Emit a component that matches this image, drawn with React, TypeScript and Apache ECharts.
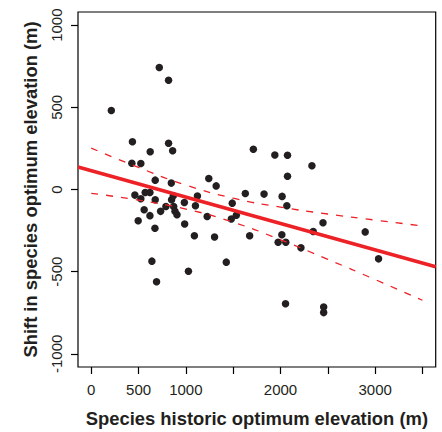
import React, { useEffect, useRef } from "react";
import * as echarts from "echarts";

// Species historic optimum elevation (m)
const historicElev = [
  212, 719, 817, 435, 817, 860, 623, 429, 524, 1713, 676, 846, 1242, 1320, 1122, 1628,
  461, 570, 620, 524, 676, 849, 867, 984, 1101, 1490, 1533, 1480, 1674, 559, 620, 496,
  733, 789, 871, 885, 906, 1225, 987, 673, 1090, 1303, 641, 1427, 1027, 690, 1940, 2074,
  2332, 2074, 1826, 2017, 2067, 2449, 2346, 2895, 2014, 1975, 2056, 2216, 3036, 2053, 2456, 2456,
];
// Shift in species optimum elevation (m)
const elevShift = [
  481, 742, 665, 291, 281, 236, 230, 160, 158, 245, 57, 39, 67, 22, -40, -24,
  -34, -18, -18, -56, -62, -62, -38, -79, -99, -83, -157, -180, -281, -123, -159, -190,
  -133, -103, -103, -133, -153, -164, -210, -236, -281, -289, -436, -442, -497, -561, 210, 208,
  144, 81, -28, -42, -99, -202, -256, -258, -275, -321, -321, -355, -422, -695, -715, -749,
];

// Fitted regression line (read at the plot edges)
const fitX = [-140, 3640];
const fitY = [137, -470];

// Confidence band
const bandX = [0, 500, 1000, 1500, 2000, 2500, 3000, 3500];
const bandUpper = [252, 134, 27, -53, -107, -149, -186, -222];
const bandLower = [-23, -65, -119, -199, -306, -425, -548, -674];

const xTicks = [0, 500, 1000, 1500, 2000, 2500, 3000, 3500];
const xLabels = [0, 500, 1000, 2000, 3000];
const yTicks = [-1000, -500, 0, 500, 1000];

const FONT = "Liberation Sans, Arial, Helvetica, sans-serif";
const RED = "#ec2227";
const INK = "#231f20";

export default function App() {
  const ref = useRef<HTMLDivElement>(null);
  useEffect(() => {
    if (!ref.current) return;
    const chart = echarts.init(ref.current, null, { renderer: "svg" });
    const pts = historicElev.map((x, i) => [x, elevShift[i]]);
    chart.setOption({
      animation: false,
      backgroundColor: "#ffffff",
      grid: {
        left: 78,
        top: 12,
        width: 357.7,
        height: 356.5,
        show: true,
        borderColor: "#000",
        borderWidth: 1.2,
        backgroundColor: "transparent",
      },
      xAxis: {
        type: "value",
        min: -140,
        max: 3640,
        name: "Species historic optimum elevation (m)",
        nameLocation: "middle",
        nameGap: 42,
        nameTextStyle: { fontFamily: FONT, fontSize: 18.4, fontWeight: "bold", color: INK },
        axisLine: { show: false, onZero: false },
        splitLine: { show: false },
        axisTick: {
          show: true,
          inside: false,
          length: 7,
          customValues: xTicks,
          lineStyle: { color: "#000", width: 1.2 },
        },
        axisLabel: {
          customValues: xLabels,
          margin: 15,
          fontFamily: FONT,
          fontSize: 15,
          color: INK,
          formatter: (v: number) => String(v),
        },
      },
      yAxis: {
        type: "value",
        min: -1080,
        max: 1080,
        name: "Shift in species optimum elevation (m)",
        nameLocation: "middle",
        nameRotate: 90,
        nameGap: 39,
        nameTextStyle: { fontFamily: FONT, fontSize: 18.4, fontWeight: "bold", color: INK },
        axisLine: { show: false, onZero: false },
        splitLine: { show: false },
        axisTick: {
          show: true,
          inside: false,
          length: 7,
          customValues: yTicks,
          lineStyle: { color: "#000", width: 1.2 },
        },
        axisLabel: {
          customValues: yTicks,
          rotate: 90,
          margin: 14,
          fontFamily: FONT,
          fontSize: 15,
          color: INK,
          formatter: (v: number) => String(v),
        },
      },
      series: [
        {
          type: "scatter",
          data: pts,
          symbol: "circle",
          symbolSize: 7.5,
          itemStyle: { color: INK, opacity: 1 },
          z: 3,
        },
        {
          type: "line",
          data: fitX.map((x, i) => [x, fitY[i]]),
          symbol: "none",
          lineStyle: { color: RED, width: 3.5 },
          clip: true,
          z: 4,
        },
        {
          type: "line",
          data: bandX.map((x, i) => [x, bandUpper[i]]),
          symbol: "none",
          smooth: true,
          lineStyle: { color: RED, width: 1.3, type: [7, 8] },
          z: 4,
        },
        {
          type: "line",
          data: bandX.map((x, i) => [x, bandLower[i]]),
          symbol: "none",
          smooth: true,
          lineStyle: { color: RED, width: 1.3, type: [7, 8] },
          z: 4,
        },
      ],
    });
    return () => chart.dispose();
  }, []);
  return <div ref={ref} style={{ width: 442, height: 432, position: "absolute", left: 0, top: 0 }} />;
}
